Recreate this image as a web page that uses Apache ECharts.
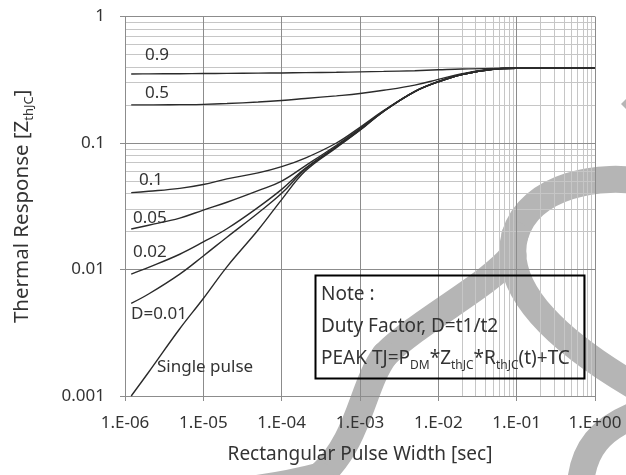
<!DOCTYPE html>
<html>
<head>
<meta charset="utf-8">
<script src="https://cdn.jsdelivr.net/npm/echarts@6/dist/echarts.min.js"></script>
<style>
  html, body { margin: 0; padding: 0; background: #fff; }
  #chart { width: 626px; height: 475px; }
</style>
</head>
<body>
<div id="chart"></div>
<script>
// Pulse widths (s)
const pulseWidth = [1.2e-6, 2e-6, 5e-6, 1e-5, 2e-5, 5e-5, 1e-4, 2e-4, 5e-4, 1e-3, 2e-3, 5e-3, 1e-2, 2e-2, 5e-2, 1e-1, 1];

// Normalised thermal response for each duty factor
const zSingle = [0.001, 0.00154, 0.0034, 0.0059, 0.0105, 0.0205, 0.0357, 0.06, 0.092, 0.126, 0.178, 0.255, 0.305, 0.348, 0.383, 0.39, 0.39];
const zD001  = [0.0054, 0.0064, 0.0092, 0.0128, 0.018, 0.028, 0.04, 0.062, 0.093, 0.127, 0.178, 0.255, 0.305, 0.348, 0.383, 0.39, 0.39];
const zD002  = [0.0092, 0.0104, 0.0132, 0.0165, 0.021, 0.031, 0.043, 0.063, 0.094, 0.128, 0.178, 0.255, 0.305, 0.348, 0.383, 0.39, 0.39];
const zD005  = [0.0209, 0.0224, 0.0255, 0.0295, 0.034, 0.042, 0.05, 0.066, 0.096, 0.13, 0.179, 0.255, 0.305, 0.348, 0.383, 0.39, 0.39];
const zD01   = [0.0405, 0.0415, 0.0438, 0.047, 0.052, 0.058, 0.065, 0.076, 0.1, 0.133, 0.18, 0.256, 0.306, 0.348, 0.383, 0.39, 0.39];
const zD05   = [0.2, 0.2, 0.201, 0.202, 0.205, 0.211, 0.217, 0.225, 0.236, 0.246, 0.261, 0.287, 0.318, 0.353, 0.385, 0.39, 0.39];
const zD09   = [0.351, 0.352, 0.353, 0.354, 0.355, 0.357, 0.358, 0.36, 0.362, 0.365, 0.368, 0.373, 0.379, 0.385, 0.389, 0.39, 0.39];

const curveData = [zSingle, zD001, zD002, zD005, zD01, zD05, zD09];

// Curve captions and their placement (left edge / vertical centre, px)
const curveLabels = ['0.9', '0.5', '0.1', '0.05', '0.02', 'D=0.01', 'Single pulse'];
const curveLabelPos = [[145, 55], [145, 93], [139, 180], [133, 218], [133, 252], [131, 314], [157, 367]];

// Axis tick labels
const xTickLabels = ['1.E-06', '1.E-05', '1.E-04', '1.E-03', '1.E-02', '1.E-01', '1.E+00'];
const yTickLabels = ['0.001', '0.01', '0.1', '1'];

// Intermediate grid values (2..9 per decade)
const xMinorGrid = [];
for (let e = -6; e < 0; e++) for (let m = 2; m <= 9; m++) xMinorGrid.push(m * Math.pow(10, e));
const yMinorGrid = [];
for (let e = -3; e < 0; e++) for (let m = 2; m <= 9; m++) yMinorGrid.push(m * Math.pow(10, e));

const FONT = '"Noto Sans", "Open Sans", sans-serif';
const TXT = '#333';

const chart = echarts.init(document.getElementById('chart'), null, { renderer: 'canvas' });

const series = curveData.map((d) => ({
  type: 'line',
  data: pulseWidth.map((x, j) => [x, d[j]]),
  showSymbol: false,
  smooth: 0.4,
  lineStyle: { color: '#2b2b2b', width: 1.4 },
  z: 12,
  silent: true
}));

// Fine grid lines drawn on the same scales
series.push({
  type: 'line',
  data: [],
  silent: true,
  z: 1,
  markLine: {
    silent: true,
    symbol: 'none',
    animation: false,
    label: { show: false },
    lineStyle: { color: '#c6c6c6', width: 1, type: 'solid' },
    data: xMinorGrid.map(v => ({ xAxis: v })).concat(yMinorGrid.map(v => ({ yAxis: v })))
  }
});

const majorLine = { show: true, lineStyle: { color: '#8c8c8c', width: 1 } };

const graphics = curveLabels.map((t, i) => ({
  type: 'text', x: curveLabelPos[i][0], y: curveLabelPos[i][1], z: 12,
  style: { text: t, fill: TXT, font: '17px ' + FONT, verticalAlign: 'middle', align: 'left' }
}));

// Background mark: broad grey ribbon built from cubic segments
const markStyle = { fill: 'none', stroke: '#b5b5b5', lineWidth: 27, lineCap: 'round' };
const markSegments = [
  [650, 183, 600, 172, 530, 185, 515, 235],
  [515, 235, 500, 290, 560, 345, 650, 395],
  [513, 255, 490, 285, 420, 320, 385, 355],
  [385, 355, 362, 385, 360, 440, 320, 476],
  [320, 476, 290, 484, 265, 488, 230, 492],
  [650, 410, 600, 425, 580, 450, 580, 495]
];
markSegments.forEach(s => graphics.push({
  type: 'bezierCurve', z: 4, silent: true,
  shape: { x1: s[0], y1: s[1], cpx1: s[2], cpy1: s[3], cpx2: s[4], cpy2: s[5], x2: s[6], y2: s[7] },
  style: markStyle
}));
graphics.push({
  type: 'polygon', z: 4, silent: true,
  shape: { points: [[621, 104], [630, 95], [630, 113]] },
  style: { fill: '#b5b5b5' }
});

// Note box
graphics.push(
  { type: 'rect', left: 313, top: 273, z: 3, shape: { width: 269, height: 103 },
    style: { fill: '#fff' } },
  { type: 'rect', left: 313, top: 273, z: 20, shape: { width: 269, height: 103 },
    style: { fill: 'none', stroke: '#000', lineWidth: 2 } },
  { type: 'text', x: 321, y: 295, z: 21,
    style: { text: 'Note :', fill: TXT, font: '19px ' + FONT, verticalAlign: 'middle' } },
  { type: 'text', x: 321, y: 327, z: 21,
    style: { text: 'Duty Factor, D=t1/t2', fill: TXT, font: '19px ' + FONT, verticalAlign: 'middle' } },
  { type: 'text', x: 321, y: 359, z: 21, style: {
      text: 'PEAK TJ=P{s|DM}*Z{s|thJC}*R{s|thJC}(t)+TC', fill: TXT, font: '19px ' + FONT,
      verticalAlign: 'middle', lineHeight: 26,
      rich: { s: { fontSize: 12, lineHeight: 16, verticalAlign: 'bottom', fill: TXT, fontFamily: FONT } }
  } }
);

chart.setOption({
  animation: false,
  backgroundColor: '#fff',
  grid: { left: 120, right: 31, top: 16.5, bottom: 79, show: false },
  xAxis: {
    type: 'log',
    logBase: 10,
    min: 1e-6,
    max: 1,
    z: 10,
    splitLine: majorLine,
    axisLine: { show: true, lineStyle: { color: '#8c8c8c' } },
    axisTick: { show: true, length: 5, lineStyle: { color: '#8c8c8c' } },
    axisLabel: {
      margin: 19,
      color: TXT,
      fontFamily: FONT,
      fontSize: 17,
      formatter: v => xTickLabels[Math.round(Math.log10(v)) + 6]
    },
    name: 'Rectangular Pulse Width [sec]',
    nameLocation: 'middle',
    nameGap: 49,
    nameTextStyle: { color: TXT, fontFamily: FONT, fontSize: 19 }
  },
  yAxis: {
    type: 'log',
    logBase: 10,
    min: 0.001,
    max: 1,
    z: 10,
    splitLine: majorLine,
    axisLine: { show: true, lineStyle: { color: '#8c8c8c' } },
    axisTick: { show: true, length: 5, lineStyle: { color: '#8c8c8c' } },
    axisLabel: {
      margin: 20,
      color: TXT,
      fontFamily: FONT,
      fontSize: 17,
      formatter: v => yTickLabels[Math.round(Math.log10(v)) + 3]
    },
    name: 'Thermal Response [Z{sub|thJC}]',
    nameLocation: 'middle',
    nameGap: 89,
    nameTextStyle: {
      color: TXT, fontFamily: FONT, fontSize: 20.5, lineHeight: 28,
      rich: { sub: { fontSize: 13, lineHeight: 17, verticalAlign: 'bottom', color: TXT, fontFamily: FONT } }
    }
  },
  series,
  graphic: graphics
});
</script>
</body>
</html>
